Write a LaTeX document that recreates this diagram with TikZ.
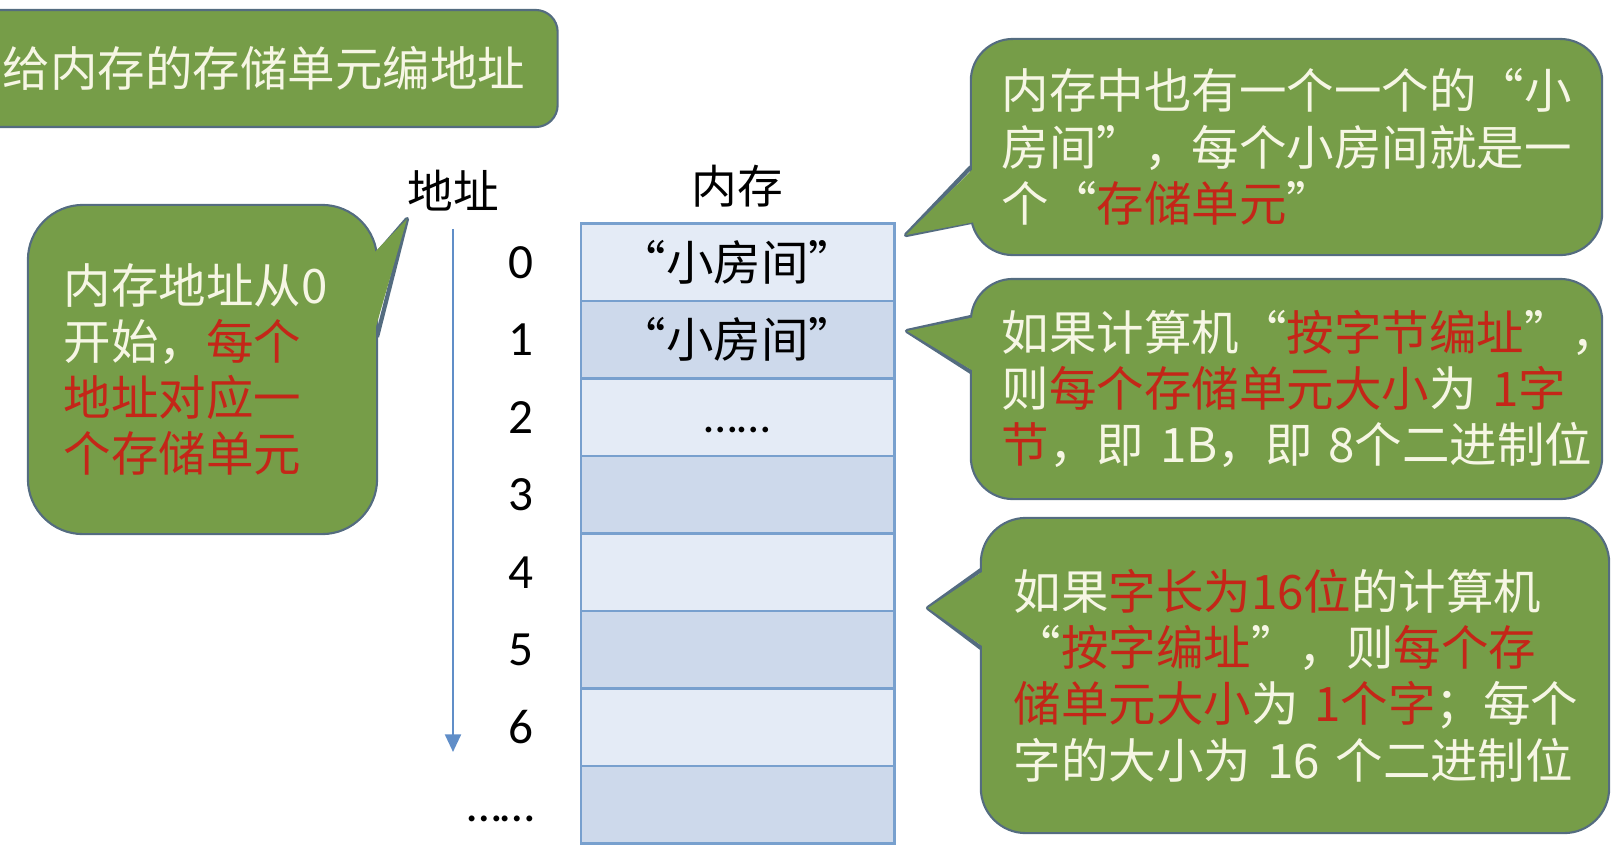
\documentclass[tikz,border=0pt]{standalone}
\usepackage{fontspec}
\setmainfont{Noto Sans CJK SC}
\newfontfamily\numfont{Carlito}
\usetikzlibrary{arrows.meta,positioning,calc}
\definecolor{notegreen}{RGB}{118,157,72}
\definecolor{noteedge}{RGB}{84,108,128}
\definecolor{notetext}{RGB}{246,246,228}
\definecolor{hot}{RGB}{196,38,24}
\definecolor{cellA}{RGB}{228,235,246}
\definecolor{cellB}{RGB}{205,217,235}
\definecolor{celledge}{RGB}{120,160,206}
\definecolor{addrline}{RGB}{96,142,200}
\newcommand{\hot}[1]{\textcolor{hot}{#1}}
\newcommand{\lqt}{{\addfontfeatures{CharacterWidth=Full}“}}
\newcommand{\rqt}{{\addfontfeatures{CharacterWidth=Full}”}}

\begin{document}
\begin{tikzpicture}[x=0.01cm, y=-0.01cm,
  note/.style={draw=noteedge, line width=0.6pt, fill=notegreen, text=notetext,
               align=left, font=\fontsize{13.5pt}{16pt}\selectfont},
  pointer/.style={draw=noteedge, line width=1.2pt, line join=round},
  cell/.style={draw=celledge, line width=0.8pt, minimum width=3.13cm,
               minimum height=0.775cm, font=\fontsize{13.5pt}{16pt}\selectfont},
  head/.style={font=\fontsize{13pt}{15pt}\selectfont},
  addr/.style={font=\numfont\fontsize{14pt}{16pt}\selectfont},
]
\useasboundingbox (0,0) rectangle (1623,857);

% title
\node[note, rounded corners=0.22cm, minimum width=5.87cm, minimum height=1.17cm]
  (title) at (264,68.5) {给内存的存储单元编地址};

% memory cells
\node[head] (mem) at (737,186) {内存};
\foreach \i/\shade/\txt in {0/cellA/{“小房间”}, 1/cellB/{“小房间”},
                            2/cellA/{\numfont\vphantom{0}……}, 3/cellB/{},
                            4/cellA/{}, 5/cellB/{}, 6/cellA/{}, 7/cellB/{}} {
  \node[cell, fill=\shade] (cell\i) at (737.5, {262.25+77.5*\i}) {\txt};
}

% addresses
\node[head] (addr) at (453,191) {地址};
\foreach \i in {0,...,6} {
  \node[addr] (a\i) at (521, {262.25+77.5*\i}) {\i};
}
\node[addr] (amore) at (501,806) {\vphantom{0}……};
\coordinate (addrend) at (453,752);
\draw[addrline, line width=0.7pt, -{Triangle[length=5pt,width=4.5pt]}]
  ([yshift=-0.05cm]addr.south) -- (addrend);

% left note
\coordinate (ltip) at (407,219);
\draw[pointer] (375,256) -- (ltip) -- (377,337);
\node[note, rounded corners=0.55cm, minimum width=3.49cm, minimum height=3.29cm,
      text width=2.77cm] (lnote) at (202.5,369.5)
  {内存地址从0\\开始，\hot{每个}\\\hot{地址对应一}\\\hot{个存储单元}};
\fill[notegreen] (371,256) -- (ltip) -- (373,337) -- cycle;

% top note
\coordinate (ttip) at (906,235);
\draw[pointer] (971,167) -- (ttip) -- (971,222);
\node[note, rounded corners=0.42cm, minimum width=6.31cm, minimum height=2.16cm,
      text width=5.69cm] (tnote) at (1286.5,147)
  {内存中也有一个一个的\lqt 小\\房间\rqt，每个小房间就是一\\个\lqt\hot{存储单元}\rqt};
\fill[notegreen] (975,167) -- (ttip) -- (975,222) -- cycle;

% middle note
\coordinate (mtip) at (907,331);
\draw[pointer] (971,317) -- (mtip) -- (971,372);
\node[note, rounded corners=0.42cm, minimum width=6.31cm, minimum height=2.2cm,
      text width=5.69cm] (mnote) at (1286.5,389)
  {如果计算机\lqt\hot{按字节编址}\rqt，\\则\hot{每个存储单元大小}为~\hot{1字}\\\hot{节}，即~1B，即~8个二进制位};
\fill[notegreen] (975,317) -- (mtip) -- (975,372) -- cycle;

% bottom note
\coordinate (btip) at (928,608);
\draw[pointer] (981,570) -- (btip) -- (981,648);
\node[note, rounded corners=0.45cm, minimum width=6.28cm, minimum height=3.15cm,
      text width=5.62cm] (bnote) at (1295,675.5)
  {如果\hot{字长为16位}的计算机\\\lqt\hot{按字编址}\rqt，则\hot{每个存}\\\hot{储单元大小}为~\hot{1个字}；每个\\字的大小为~16~个二进制位};
\fill[notegreen] (985,570) -- (btip) -- (985,648) -- cycle;
\end{tikzpicture}
\end{document}
